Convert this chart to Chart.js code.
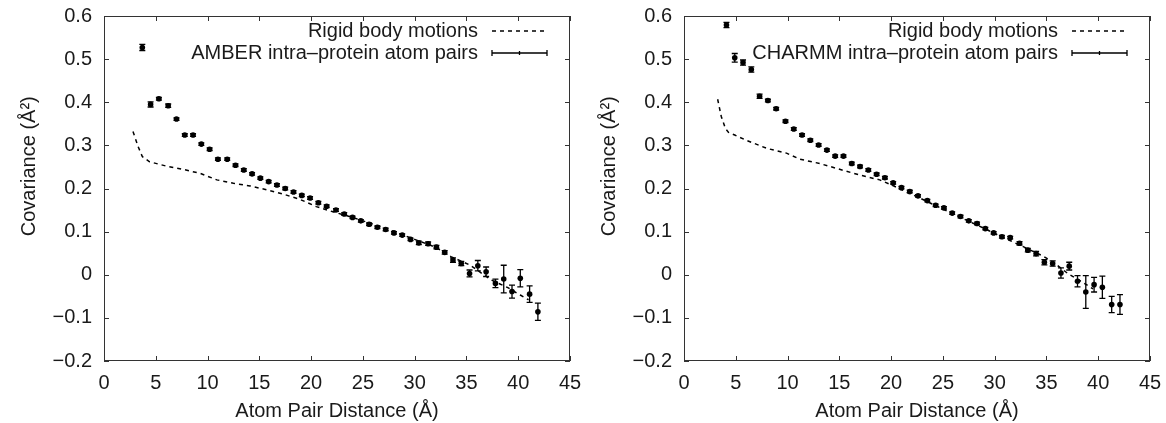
<!DOCTYPE html>
<html lang="en">
<head>
  <meta charset="UTF-8" />
  <title>Covariance vs atom pair distance</title>
  <script src="https://cdn.jsdelivr.net/npm/chart.js"></script>
  <style>
    body {
      margin: 0;
      background: #fff;
      width: 1166px;
      height: 423px;
      overflow: hidden;
      position: relative;
    }
    #amberChart {
      position: absolute;
      left: 0;
      top: 0;
    }
    #charmmChart {
      position: absolute;
      left: 580px;
      top: 0;
    }
  </style>
</head>
<body>
  <canvas id="amberChart" width="582" height="423"></canvas>
  <canvas id="charmmChart" width="586" height="423"></canvas>

  <script>
    // AMBER panel
    const amberX = [3.7, 4.5, 5.3, 6.2, 7.0, 7.8, 8.6, 9.4, 10.2, 11.0, 11.9, 12.7, 13.5, 14.3, 15.1, 15.9,
      16.7, 17.5, 18.3, 19.1, 19.9, 20.7, 21.5, 22.4, 23.2, 24.0, 24.8, 25.6, 26.4, 27.2, 28.0, 28.8,
      29.6, 30.4, 31.3, 32.1, 32.9, 33.7, 34.5, 35.3, 36.1, 36.9, 37.8, 38.6, 39.4, 40.2, 41.1, 41.9];
    const amberY = [0.527, 0.395, 0.408, 0.392, 0.361, 0.324, 0.324, 0.303, 0.291, 0.268, 0.268, 0.254, 0.243, 0.234, 0.224, 0.216,
      0.208, 0.200, 0.192, 0.184, 0.178, 0.167, 0.159, 0.150, 0.141, 0.133, 0.125, 0.117, 0.110, 0.105, 0.097, 0.092,
      0.082, 0.074, 0.072, 0.064, 0.052, 0.034, 0.026, 0.003, 0.021, 0.007, -0.020, -0.010, -0.039, -0.008, -0.045, -0.086];
    const amberErr = [0.007, 0.006, 0.003, 0.004, 0.003, 0.003, 0.003, 0.003, 0.003, 0.003, 0.003, 0.003, 0.003, 0.003, 0.003, 0.003,
      0.003, 0.003, 0.003, 0.003, 0.003, 0.003, 0.003, 0.003, 0.003, 0.003, 0.003, 0.003, 0.003, 0.003, 0.003, 0.003,
      0.003, 0.004, 0.004, 0.004, 0.004, 0.005, 0.005, 0.008, 0.012, 0.011, 0.010, 0.032, 0.015, 0.020, 0.019, 0.020];
    const amberRigidX = [2.8, 3.3, 3.7, 4.4, 6.0, 7.7, 9.3, 10.9, 12.5, 14.1, 15.7, 17.3, 18.9, 20.5, 22.1, 24.0,
      26.0, 28.0, 30.0, 32.0, 33.5, 35.3, 37.4, 39.0, 40.2, 41.0];
    const amberRigidY = [0.332, 0.297, 0.274, 0.262, 0.252, 0.244, 0.235, 0.220, 0.212, 0.206, 0.197, 0.187, 0.175, 0.158, 0.146, 0.133,
      0.117, 0.100, 0.082, 0.064, 0.042, 0.023, -0.012, -0.030, -0.047, -0.058];

    // CHARMM panel
    const charmmX = [4.1, 4.9, 5.7, 6.5, 7.3, 8.1, 8.9, 9.8, 10.6, 11.4, 12.2, 13.0, 13.8, 14.6, 15.4, 16.2,
      17.0, 17.8, 18.6, 19.4, 20.2, 21.0, 21.8, 22.6, 23.5, 24.3, 25.1, 25.9, 26.7, 27.5, 28.3, 29.1,
      29.9, 30.7, 31.5, 32.4, 33.2, 34.0, 34.8, 35.6, 36.4, 37.2, 38.0, 38.8, 39.6, 40.4, 41.3, 42.1];
    const charmmY = [0.579, 0.503, 0.492, 0.476, 0.414, 0.404, 0.385, 0.356, 0.338, 0.324, 0.312, 0.301, 0.289, 0.275, 0.275, 0.258,
      0.251, 0.243, 0.233, 0.225, 0.213, 0.202, 0.193, 0.183, 0.172, 0.161, 0.155, 0.143, 0.135, 0.125, 0.119, 0.107,
      0.097, 0.088, 0.086, 0.073, 0.057, 0.049, 0.029, 0.026, 0.004, 0.020, -0.015, -0.040, -0.023, -0.029, -0.069, -0.069];
    const charmmErr = [0.006, 0.010, 0.006, 0.006, 0.005, 0.003, 0.003, 0.003, 0.003, 0.003, 0.003, 0.003, 0.003, 0.003, 0.003, 0.003,
      0.003, 0.003, 0.003, 0.003, 0.003, 0.003, 0.003, 0.003, 0.003, 0.003, 0.003, 0.003, 0.003, 0.003, 0.003, 0.003,
      0.003, 0.003, 0.003, 0.004, 0.004, 0.005, 0.006, 0.006, 0.012, 0.009, 0.013, 0.038, 0.017, 0.026, 0.019, 0.023];
    const charmmRigidX = [3.25, 3.6, 4.0, 4.3, 4.9, 6.0, 8.0, 9.9, 11.2, 13.1, 15.1, 17.0, 18.9, 20.5, 22.5, 24.5,
      26.5, 28.5, 30.5, 32.5, 34.7, 36.0, 37.1, 38.6, 39.5];
    const charmmRigidY = [0.407, 0.367, 0.339, 0.330, 0.324, 0.312, 0.293, 0.282, 0.268, 0.258, 0.244, 0.231, 0.220, 0.203, 0.181, 0.158,
      0.135, 0.113, 0.090, 0.068, 0.043, 0.023, 0.002, -0.019, -0.033];

    const xTicks = [0, 5, 10, 15, 20, 25, 30, 35, 40, 45];
    const yTicks = [-0.2, -0.1, 0, 0.1, 0.2, 0.3, 0.4, 0.5, 0.6];

    const FONT = "'Liberation Sans', Arial, Helvetica, sans-serif";
    const SIZE = 20;
    const TEXT = "#1a1a1a";
    const FRAME = "#333";

    function pairs(xs, ys) {
      return xs.map((x, i) => ({ x: x, y: ys[i] }));
    }

    function fmtY(v) {
      const r = Math.round(v * 10) / 10;
      if (r === 0) return "0";
      return (r < 0 ? "\u2212" : "") + Math.abs(r).toFixed(1);
    }

    // frame box + inward ticks on all four sides, like gnuplot
    const framePlugin = {
      id: "frame",
      afterDraw(chart) {
        const { ctx, chartArea: a, scales } = chart;
        ctx.save();
        ctx.strokeStyle = FRAME;
        ctx.lineWidth = 1;
        ctx.strokeRect(a.left + 0.5, a.top + 0.5, a.right - a.left - 1, a.bottom - a.top - 1);
        ctx.beginPath();
        xTicks.forEach(t => {
          const px = Math.round(scales.x.getPixelForValue(t)) + 0.5;
          ctx.moveTo(px, a.bottom); ctx.lineTo(px, a.bottom - 5);
          ctx.moveTo(px, a.top); ctx.lineTo(px, a.top + 5);
        });
        yTicks.forEach(t => {
          const py = Math.round(scales.y.getPixelForValue(t)) + 0.5;
          ctx.moveTo(a.left, py); ctx.lineTo(a.left + 5, py);
          ctx.moveTo(a.right, py); ctx.lineTo(a.right - 5, py);
        });
        ctx.stroke();
        ctx.restore();
      }
    };

    // vertical error bars with caps
    const errorBarPlugin = {
      id: "errorBars",
      afterDatasetsDraw(chart) {
        const { ctx, scales } = chart;
        ctx.save();
        ctx.strokeStyle = "#000";
        ctx.lineWidth = 1.3;
        chart.data.datasets.forEach(ds => {
          if (!ds.errors) return;
          ds.data.forEach((p, i) => {
            const px = scales.x.getPixelForValue(p.x);
            const top = scales.y.getPixelForValue(p.y + ds.errors[i]);
            const bot = scales.y.getPixelForValue(p.y - ds.errors[i]);
            ctx.beginPath();
            ctx.moveTo(px, top); ctx.lineTo(px, bot);
            ctx.moveTo(px - 3, top); ctx.lineTo(px + 3, top);
            ctx.moveTo(px - 3, bot); ctx.lineTo(px + 3, bot);
            ctx.stroke();
          });
        });
        ctx.restore();
      }
    };

    // gnuplot style key: right aligned text, sample to the right
    const keyPlugin = {
      id: "key",
      afterDraw(chart) {
        const { ctx, chartArea: a } = chart;
        const rows = [a.top + 15, a.top + 37];
        ctx.save();
        ctx.font = SIZE + "px " + FONT;
        ctx.fillStyle = TEXT;
        ctx.textAlign = "right";
        ctx.textBaseline = "middle";
        chart.data.datasets.forEach((ds, i) => {
          const y = rows[i];
          ctx.fillText(ds.label, a.right - 92, y);
          const x0 = a.right - 78, x1 = a.right - 23;
          ctx.strokeStyle = "#000";
          ctx.beginPath();
          if (ds.errors) {
            ctx.setLineDash([]);
            ctx.lineWidth = 1.3;
            ctx.moveTo(x0, y); ctx.lineTo(x1, y);
            ctx.moveTo(x0, y - 3); ctx.lineTo(x0, y + 3);
            ctx.moveTo(x1, y - 3); ctx.lineTo(x1, y + 3);
            const xm = (x0 + x1) / 2;
            ctx.moveTo(xm, y - 2); ctx.lineTo(xm, y + 2);
          } else {
            ctx.setLineDash([4, 4]);
            ctx.lineWidth = 1.5;
            ctx.moveTo(x0, y); ctx.lineTo(x1, y);
          }
          ctx.stroke();
        });
        ctx.restore();
      }
    };

    function makeChart(id, rightPad, rigidX, rigidY, xs, ys, errs, label) {
      return new Chart(document.getElementById(id), {
        type: "scatter",
        data: {
          datasets: [
            {
              label: "Rigid body motions",
              data: pairs(rigidX, rigidY),
              showLine: true,
              borderColor: "#000",
              borderWidth: 1.5,
              borderDash: [4, 4],
              pointRadius: 0,
              tension: 0
            },
            {
              label: label,
              data: pairs(xs, ys),
              errors: errs,
              showLine: false,
              pointStyle: "circle",
              pointRadius: 2.8,
              pointBackgroundColor: "#000",
              pointBorderWidth: 0
            }
          ]
        },
        options: {
          responsive: false,
          animation: false,
          layout: { padding: { top: 16, right: rightPad, left: 0, bottom: 0 } },
          plugins: { legend: { display: false }, tooltip: { enabled: false } },
          scales: {
            x: {
              type: "linear",
              min: 0,
              max: 45,
              afterBuildTicks: s => { s.ticks = xTicks.map(v => ({ value: v })); },
              afterFit: s => { s.height = 62; },
              grid: { display: false, drawTicks: true, tickLength: 10 },
              border: { display: false },
              ticks: { color: TEXT, font: { family: FONT, size: SIZE }, padding: 0, maxRotation: 0, autoSkip: false },
              title: { display: true, text: "Atom Pair Distance (\u00c5)", color: TEXT, font: { family: FONT, size: SIZE }, padding: { top: 0, bottom: 0 } }
            },
            y: {
              type: "linear",
              min: -0.2,
              max: 0.6,
              afterBuildTicks: s => { s.ticks = yTicks.map(v => ({ value: v })); },
              afterFit: s => { s.width = 104; },
              grid: { display: false, drawTicks: true, tickLength: 8 },
              border: { display: false },
              ticks: { color: TEXT, font: { family: FONT, size: SIZE }, padding: 4, callback: v => fmtY(v) },
              title: { display: true, text: "        Covariance (\u00c5\u00b2)", color: TEXT, font: { family: FONT, size: SIZE }, padding: { top: 17, bottom: 0 } }
            }
          }
        },
        plugins: [errorBarPlugin, framePlugin, keyPlugin]
      });
    }

    makeChart("amberChart", 12, amberRigidX, amberRigidY, amberX, amberY, amberErr, "AMBER intra\u2013protein atom pairs");
    makeChart("charmmChart", 16, charmmRigidX, charmmRigidY, charmmX, charmmY, charmmErr, "CHARMM intra\u2013protein atom pairs");
  </script>
</body>
</html>
